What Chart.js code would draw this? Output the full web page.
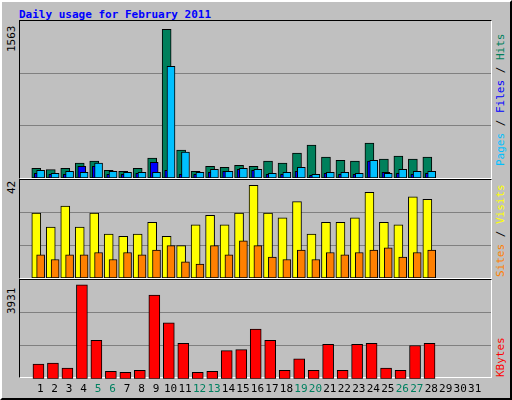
<!DOCTYPE html>
<html><head><meta charset="utf-8">
<script src="https://cdn.jsdelivr.net/npm/chart.js@4"></script>
<style>
body{margin:0;width:512px;height:400px;background:#c0c0c0;overflow:hidden;font-family:"DejaVu Sans Mono",monospace;}
#frame{position:absolute;left:0;top:0;width:508px;height:396px;border:2px solid;border-color:#fff #000 #000 #fff;}
.p{position:absolute;left:19px;width:471px;border:1px solid;border-color:#000 #fff #fff #000;}
.p canvas{position:absolute;left:0;top:0;}
.t{position:absolute;font-size:11px;font-weight:bold;white-space:nowrap;}
.r{position:absolute;font-size:11px;white-space:nowrap;transform-origin:0 0;transform:rotate(-90deg);}
</style></head><body>
<div id="frame"></div>
<div class="t" style="left:19px;top:8px;color:#0000ff">Daily usage for February 2011</div>
<div class="p" style="top:20px;height:157px"><canvas id="c1" width="471" height="157"></canvas></div>
<div class="p" style="top:179px;height:98px"><canvas id="c2" width="471" height="98"></canvas></div>
<div class="p" style="top:279px;height:97px"></div>
<canvas id="c3" width="471" height="120" style="position:absolute;left:20px;top:280px"></canvas>
<div class="r" style="left:5px;top:52px">1563</div>
<div class="r" style="left:5px;top:194px">42</div>
<div class="r" style="left:5px;top:314px">3931</div>
<div class="r" style="left:494px;top:166px"><span style="color:#00c0ff">Pages</span><span style="color:#000"> / </span><span style="color:#0000ff">Files</span><span style="color:#000"> / </span><span style="color:#00805c">Hits</span></div>
<div class="r" style="left:494px;top:277px"><span style="color:#ff8000">Sites</span><span style="color:#000"> / </span><span style="color:#ffff00">Visits</span></div>
<div class="r" style="left:494px;top:377px;color:#ff0000">KBytes</div>
<script>
const days=[1,2,3,4,5,6,7,8,9,10,11,12,13,14,15,16,17,18,19,20,21,22,23,24,25,26,27,28,29,30,31];
const weekend=[5,6,12,13,19,20,26,27];
const hits=[103,88,103,156,177,81,71,103,209,1563,294,71,124,113,134,124,177,156,262,347,219,187,177,368,198,230,198,219];
const files=[50,39,39,124,124,39,39,50,166,81,39,39,60,71,92,81,39,39,71,28,50,39,39,177,60,50,39,50];
const pages=[81,50,71,60,156,71,60,60,60,1174,272,60,92,71,103,92,50,60,113,39,60,60,50,187,50,92,71,71];
const visits=[28,22,31,22,28,19,18,19,24,18,14,23,27,23,28,40,28,26,33,19,24,24,26,37,24,23,35,34];
const sites=[10,8,10,10,11,8,11,10,12,14,7,6,14,10,16,14,9,8,12,8,11,10,11,12,13,9,11,12];
const kbytes=[617,660,445,3931,1607,316,273,359,3501,2339,1478,273,316,1177,1220,2081,1607,359,832,359,1435,359,1435,1478,445,359,1392,1478];

const XMIN=0.13,XMAX=31.6;
function ds(vals,off,color,w){return {data:vals.map((v,i)=>({x:days[i]+off,y:v})),backgroundColor:color,borderColor:'#000',borderWidth:1,barThickness:w,grouped:false,borderSkipped:false};}
function yScale(max){return {min:0,max:max,display:true,border:{display:false},ticks:{display:false},grid:{color:'#808080',drawTicks:false,lineWidth:1},
  afterBuildTicks:s=>{s.ticks=[{value:max/3},{value:2*max/3}];},afterFit:s=>{s.width=0;}};}
function mk(id,datasets,ymax,ticks,yg){
  return new Chart(document.getElementById(id),{type:'bar',data:{datasets},
   options:{responsive:false,animation:false,events:[],layout:{padding:0},
    plugins:{legend:{display:false},tooltip:{enabled:false}},
    scales:{x:{type:'linear',min:XMIN,max:XMAX,display:ticks,border:{display:false},grid:{display:false,drawTicks:false},
      afterBuildTicks:s=>{s.ticks=days.map(d=>({value:d}));},
      ticks:{padding:4,autoSkip:false,maxRotation:0,font:{family:'DejaVu Sans Mono',size:11},color:c=>weekend.includes(c.tick.value)?'#008060':'#000'}},
     y:yg}}});
}
mk('c1',[ds(pages,0.03,'#00c0ff',8),ds(files,-0.13,'#0000ff',8),ds(hits,-0.27,'#00805c',9)],1651,false,yScale(1651));
mk('c2',[ds(sites,0.03,'#ff8000',8),ds(visits,-0.27,'#ffff00',9)],42.3,false,yScale(42.3));
mk('c3',[ds(kbytes,-0.12,'#ff0000',11)],4128,true,yScale(4128));
</script></body></html>
